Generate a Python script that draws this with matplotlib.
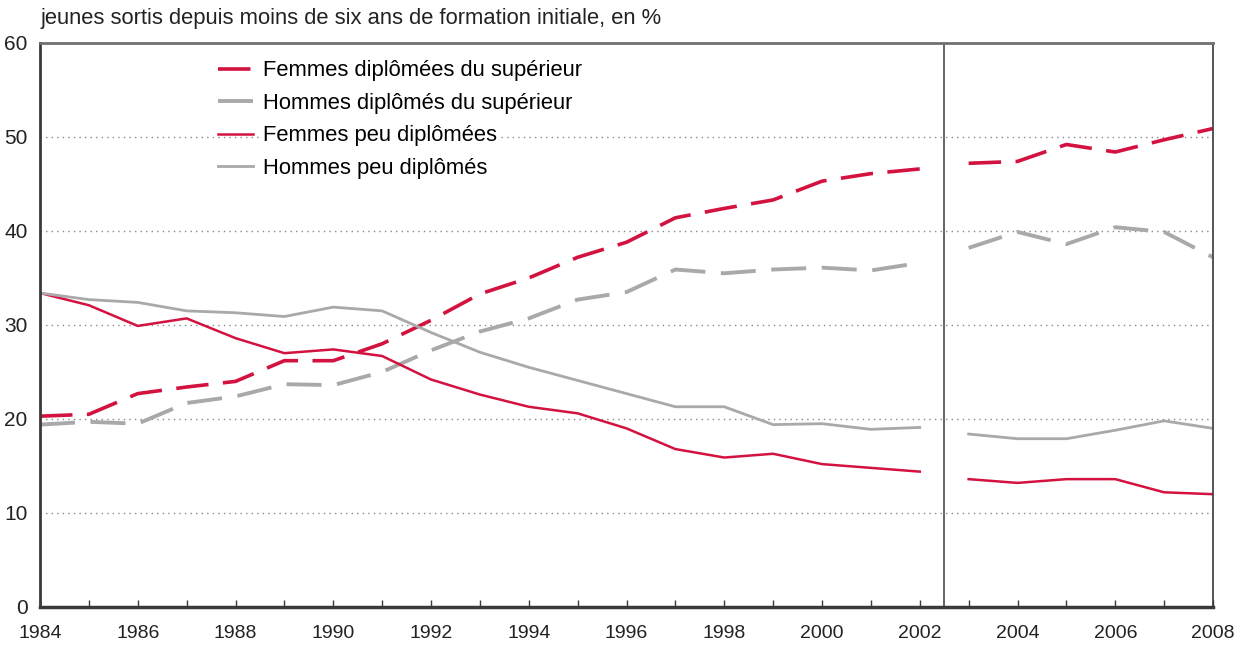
import numpy as np
import matplotlib
matplotlib.use("Agg")
import matplotlib.pyplot as plt

years = np.arange(1984, 2009)

femmes_sup = [20.3, 20.5, 22.7, 23.4, 24.0, 26.2, 26.2, 28.0, 30.5, 33.3, 35.0, 37.2, 38.8, 41.4, 42.4, 43.3, 45.3, 46.1, 46.6,
              47.2, 47.4, 49.2, 48.4, 49.7, 50.9]
hommes_sup = [19.4, 19.7, 19.5, 21.7, 22.4, 23.7, 23.6, 25.0, 27.3, 29.3, 30.7, 32.7, 33.5, 35.9, 35.5, 35.9, 36.1, 35.8, 36.6,
              38.2, 39.9, 38.6, 40.4, 39.9, 37.2]
femmes_peu = [33.4, 32.1, 29.9, 30.7, 28.6, 27.0, 27.4, 26.7, 24.2, 22.6, 21.3, 20.6, 19.0, 16.8, 15.9, 16.3, 15.2, 14.8, 14.4,
              13.6, 13.2, 13.6, 13.6, 12.2, 12.0]
hommes_peu = [33.4, 32.7, 32.4, 31.5, 31.3, 30.9, 31.9, 31.5, 29.2, 27.1, 25.5, 24.1, 22.7, 21.3, 21.3, 19.4, 19.5, 18.9, 19.1,
              18.4, 17.9, 17.9, 18.8, 19.8, 19.0]

labels = ["Femmes diplômées du supérieur", "Hommes diplômés du supérieur",
          "Femmes peu diplômées", "Hommes peu diplômés"]

red = "#d3123f"
grey = "#a9a9a9"
dark = "#3a3a3a"

plt.rcParams["font.family"] = ["Liberation Sans", "DejaVu Sans"]

fig = plt.figure(figsize=(12.5, 6.51), dpi=100)
ax = fig.add_axes([0.032, 0.0676, 0.9384, 0.8664])

series = [
    (femmes_sup, red, 2.6, (0, (9, 4))),
    (hommes_sup, grey, 2.8, (0, (9, 4))),
    (femmes_peu, red, 1.8, "-"),
    (hommes_peu, grey, 2.0, "-"),
]

# the series is broken between 2002 and 2003
split = 2002
for (vals, col, lw, ls), lab in zip(series, labels):
    vals = np.array(vals)
    first = years <= split
    ax.plot(years[first], vals[first], color=col, lw=lw, linestyle=ls, label=lab,
            solid_joinstyle="round")
    ax.plot(years[~first], vals[~first], color=col, lw=lw, linestyle=ls,
            solid_joinstyle="round")

ax.axvline(2002.5, color=dark, lw=1.1)

ax.set_xlim(1984, 2008)
ax.set_ylim(0, 60)

ax.set_yticks(range(0, 61, 10))
ax.set_xticks(range(1984, 2009, 2))
ax.set_xticks(range(1984, 2009), minor=True)
ax.tick_params(axis="y", length=0, labelsize=15, pad=9, colors="#222222")
ax.tick_params(axis="x", which="both", direction="in", length=5, width=1,
               color=dark, labelsize=14, pad=13, labelcolor="#222222")

for y in range(10, 60, 10):
    ax.axhline(y, color="#888888", lw=1.0, linestyle=(0, (1, 3)), zorder=0)

ax.spines["left"].set_linewidth(2)
ax.spines["left"].set_color(dark)
ax.spines["bottom"].set_linewidth(2.5)
ax.spines["bottom"].set_color(dark)
ax.spines["top"].set_linewidth(2)
ax.spines["top"].set_color("#707070")
ax.spines["right"].set_linewidth(1.2)
ax.spines["right"].set_color(dark)

leg = ax.legend(loc="upper left", bbox_to_anchor=(0.135, 1.004), frameon=False,
                fontsize=15.8, handlelength=1.6, handletextpad=0.45, labelspacing=0.52)
# white behind the legend text so the dotted grid stops around it
for t in leg.get_texts():
    t.set_bbox(dict(facecolor="white", edgecolor="none", pad=3))

fig.text(0.032, 0.972, "jeunes sortis depuis moins de six ans de formation initiale, en %",
         fontsize=15.8, color="#222222", va="center", ha="left")

fig.savefig("out.png", dpi=100)
